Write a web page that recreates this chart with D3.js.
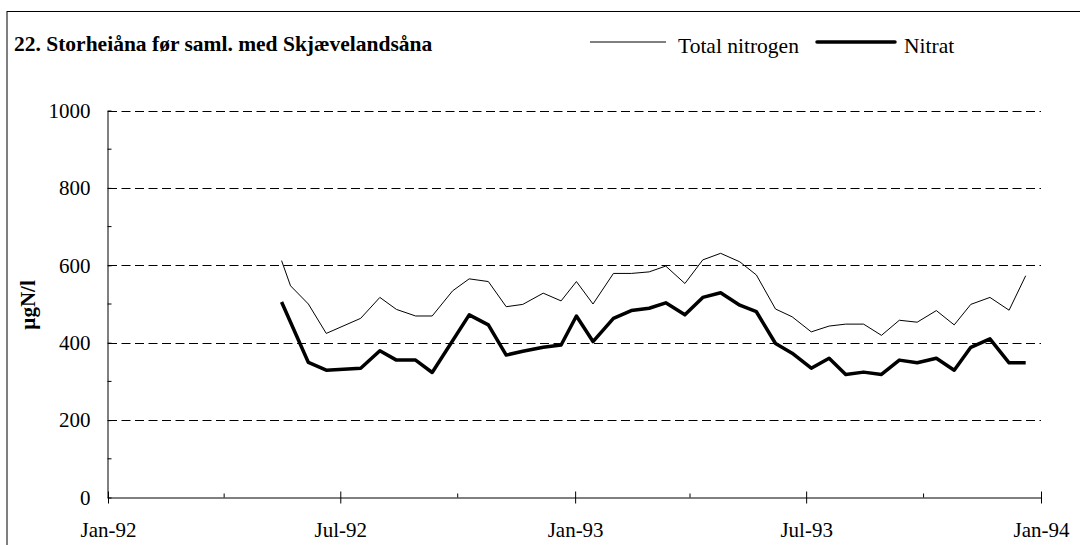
<!DOCTYPE html>
<html>
<head>
<meta charset="utf-8">
<script src="https://cdn.jsdelivr.net/npm/d3@7"></script>
<style>
body{margin:0;background:#fff;}
svg{display:block;font-family:"Liberation Serif","Times New Roman",serif;}
</style>
</head>
<body>
<svg id="grafico" width="1080" height="545"></svg>
<script>
// dados
var titulo = "22. Storheiåna før saml. med Skjævelandsåna";
var nomeSeries = ["Total nitrogen", "Nitrat"];
var datas = ["1992-05-16","1992-05-23","1992-06-06","1992-06-20","1992-07-17","1992-08-01","1992-08-14",
    "1992-08-29","1992-09-11","1992-09-27","1992-10-10","1992-10-25","1992-11-08","1992-11-21",
    "1992-12-07","1992-12-21","1993-01-02","1993-01-15","1993-01-31","1993-02-14","1993-02-28",
    "1993-03-13","1993-03-28","1993-04-11","1993-04-25","1993-05-10","1993-05-23","1993-06-07",
    "1993-06-20","1993-07-05","1993-07-19","1993-08-01","1993-08-15","1993-08-29","1993-09-12",
    "1993-09-26","1993-10-11","1993-10-25","1993-11-07","1993-11-22","1993-12-07","1993-12-20"];
var totalN = [612,547,500,424,463,517,486,469,469,534,565,558,493,499,528,508,558,500,579,579,583,
    598,553,614,631,609,575,487,467,428,443,448,448,419,458,453,483,446,499,517,484,573];
var nitrat = [505,null,349,329,334,379,355,355,323,null,472,446,368,378,388,394,469,403,463,483,489,
    503,472,517,529,497,480,398,373,334,360,318,324,318,355,348,360,329,388,410,348,348];
var ticksY = [0,200,400,600,800,1000];
var ticksX = ["1992-01-01","1992-07-01","1993-01-01","1993-07-01","1994-01-01"];
var ticksXmenor = ["1992-04-01","1992-10-01","1993-04-01","1993-10-01"];

var parseData = d3.timeParse("%Y-%m-%d");
var fmtX = d3.timeFormat("%b-%y");

function montaSerie(valores){
    var ar = [];
    for(var i=0;i<datas.length;i++){
        if(valores[i]!=null){
            ar.push({date:parseData(datas[i]), valor:valores[i]});
        }
    }
    return ar;
}

function desenhaGrafico(){
    var svg = d3.select("#grafico");
    var left = 108, right = 1041, top = 110.5, bottom = 497.5;

    var x = d3.scaleTime()
        .domain([parseData(ticksX[0]), parseData(ticksX[ticksX.length-1])])
        .range([left, right]);
    var y = d3.scaleLinear().domain([0,1000]).range([bottom, top]);

    // moldura
    svg.append("rect")
        .attr("x", 7).attr("y", 11.5)
        .attr("width", 1100).attr("height", 600)
        .attr("fill", "none").attr("stroke", "#000").attr("stroke-width", 1);

    // titulo
    svg.append("text")
        .attr("x", 14).attr("y", 51)
        .attr("font-size", 21.5).attr("font-weight", "bold")
        .text(titulo);

    // linhas de grade
    svg.append("g").selectAll("line")
        .data(ticksY.filter(function(d){ return d>0; }))
        .enter().append("line")
        .attr("x1", left).attr("x2", right)
        .attr("y1", function(d){ return Math.round(y(d))+0.5; })
        .attr("y2", function(d){ return Math.round(y(d))+0.5; })
        .attr("stroke", "#000").attr("stroke-width", 1)
        .attr("stroke-dasharray", "9,4.5");

    // eixo Y
    var eixoY = svg.append("g")
        .attr("transform", "translate(" + (left-0.5) + ",0)")
        .call(d3.axisLeft(y).tickValues(ticksY).tickFormat(d3.format("d"))
            .tickSize(6).tickSizeOuter(0).tickPadding(11));
    eixoY.select(".domain").attr("stroke", "#000");
    eixoY.selectAll(".tick line").attr("x2", 4);
    eixoY.selectAll("text").attr("font-size", 21).attr("font-family", "Liberation Serif");
    eixoY.selectAll(".menor")
        .data([100,300,500,700,900])
        .enter().append("line")
        .attr("class", "menor")
        .attr("x1", 0).attr("x2", 4)
        .attr("y1", function(d){ return y(d); }).attr("y2", function(d){ return y(d); })
        .attr("stroke", "#000");

    // eixo X
    var eixoX = svg.append("g")
        .attr("transform", "translate(0," + (bottom) + ")")
        .call(d3.axisBottom(x)
            .tickValues(ticksX.map(parseData))
            .tickFormat(fmtX)
            .tickSize(6).tickSizeOuter(0).tickPadding(19));
    eixoX.select(".domain").attr("stroke", "#000");
    eixoX.selectAll(".tick line").attr("y1", -6);
    eixoX.selectAll("text").attr("font-size", 21).attr("font-family", "Liberation Serif");
    eixoX.selectAll(".menor")
        .data(ticksXmenor.map(parseData))
        .enter().append("line")
        .attr("class", "menor")
        .attr("x1", function(d){ return x(d); }).attr("x2", function(d){ return x(d); })
        .attr("y1", -4).attr("y2", 0)
        .attr("stroke", "#000");

    // titulo do eixo y
    svg.append("text")
        .attr("transform", "translate(35,305) rotate(-90)")
        .attr("text-anchor", "middle")
        .attr("font-size", 21).attr("font-weight", "bold")
        .text("µgN/l");

    var linha = d3.line()
        .x(function(d){ return x(d.date); })
        .y(function(d){ return y(d.valor); });

    // total nitrogen
    svg.append("path")
        .datum(montaSerie(totalN))
        .attr("fill", "none").attr("stroke", "#000").attr("stroke-width", 1)
        .attr("d", linha);

    // nitrat
    svg.append("path")
        .datum(montaSerie(nitrat))
        .attr("fill", "none").attr("stroke", "#000").attr("stroke-width", 3.5)
        .attr("stroke-linejoin", "round")
        .attr("d", linha);

    // legenda
    var leg = svg.append("g");
    leg.append("line").attr("x1", 590).attr("x2", 666).attr("y1", 42).attr("y2", 42)
        .attr("stroke", "#000").attr("stroke-width", 1);
    leg.append("text").attr("x", 678).attr("y", 53).attr("font-size", 21.5).text(nomeSeries[0]);
    leg.append("line").attr("x1", 817).attr("x2", 895).attr("y1", 42).attr("y2", 42)
        .attr("stroke", "#000").attr("stroke-width", 3.5).attr("stroke-linecap", "round");
    leg.append("text").attr("x", 904).attr("y", 53).attr("font-size", 21.5).text(nomeSeries[1]);
}

desenhaGrafico();
</script>
</body>
</html>
